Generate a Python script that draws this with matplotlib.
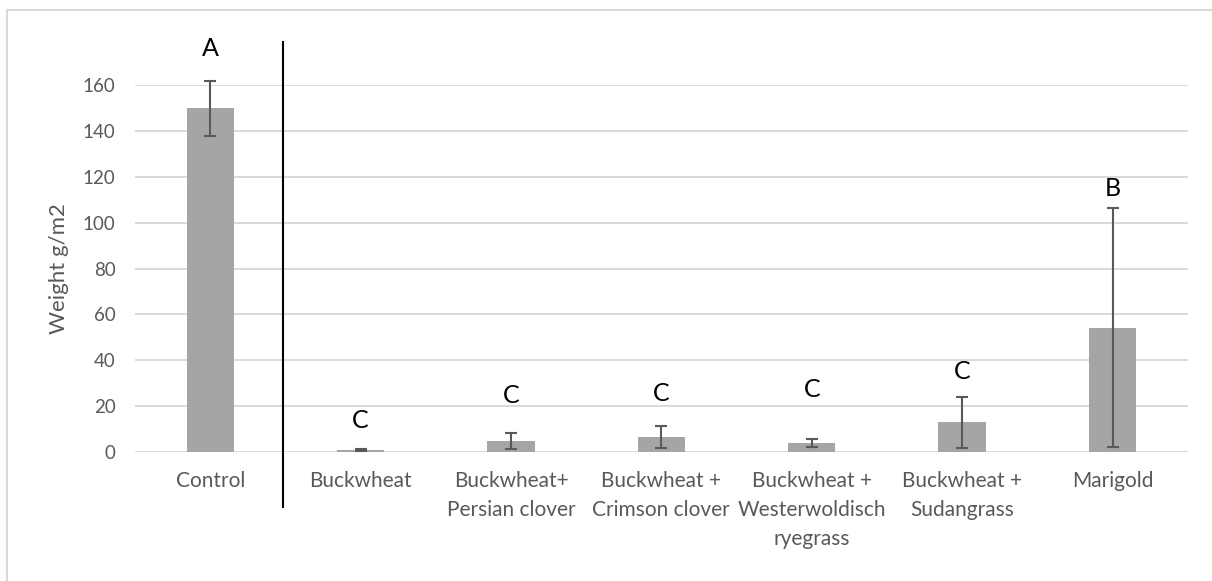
import matplotlib
matplotlib.use("Agg")
import matplotlib.pyplot as plt
from matplotlib.lines import Line2D
import matplotlib.transforms as mtransforms

plt.rcParams['font.family'] = ['Lato', 'DejaVu Sans']

categories = ["Control", "Buckwheat", "Buckwheat+\nPersian clover",
              "Buckwheat +\nCrimson clover", "Buckwheat +\nWesterwoldisch\nryegrass",
              "Buckwheat +\nSudangrass", "Marigold"]
weights = [150.0, 0.8, 4.7, 6.5, 3.7, 12.9, 54.2]
errors = [12.0, 0.4, 3.5, 4.8, 1.7, 11.2, 52.2]
groups = ["A", "C", "C", "C", "C", "C", "B"]
group_y = [176, 13.8, 24.5, 25.5, 27.2, 35, 115]
yticks = [0, 20, 40, 60, 80, 100, 120, 140, 160]

W, H = 1212, 581
fig = plt.figure(figsize=(W / 100, H / 100), dpi=100)
ax = fig.add_axes([135 / W, 1 - 451.7 / H, (1187.7 - 135) / W, (451.7 - 85.3) / H])

grey_text = "#595959"
x = list(range(len(categories)))

ax.set_axisbelow(True)
ax.yaxis.grid(True, color="#D9D9D9", linewidth=1.4)
ax.bar(x, weights, width=0.315, color="#A5A5A5", zorder=2)
eb = ax.errorbar(x, weights, yerr=errors, fmt="none", ecolor=grey_text,
                 elinewidth=1.5, capsize=4.5, capthick=1.5, zorder=3)
for part in eb.lines:
    for artist in (part if isinstance(part, tuple) else [part]):
        if artist is not None:
            artist.set_clip_on(False)

for xi, g, gy in zip(x, groups, group_y):
    ax.text(xi, gy, g, ha="center", va="center", fontsize=18, color="black",
            clip_on=False)

ax.set_xlim(-0.5, len(categories) - 0.5)
ax.set_ylim(0, 160)
ax.set_yticks(yticks)
ax.set_xticks(x)
ax.set_xticklabels(categories, fontsize=15, color=grey_text, linespacing=1.56,
                   va="top")
ax.tick_params(axis="y", length=0, pad=14, labelsize=13.5, labelcolor=grey_text)
ax.tick_params(axis="x", length=0, pad=14)
for side in ["top", "right", "left", "bottom"]:
    ax.spines[side].set_visible(False)

ax.set_ylabel("Weight g/m2", fontsize=16, color=grey_text, labelpad=10)

# separator between the control and the cover-crop treatments
trans = mtransforms.blended_transform_factory(ax.transData, ax.transData)
ax.add_line(Line2D([0.482, 0.482], [-24, 179], color="black", linewidth=1.5,
                   transform=trans, clip_on=False))

# chart frame
frame_c = "#D9D9D9"
fig.add_artist(Line2D([7 / W, 1], [1 - 10 / H, 1 - 10 / H], color=frame_c,
                      linewidth=1.5, transform=fig.transFigure))
fig.add_artist(Line2D([7 / W, 7 / W], [0, 1 - 10 / H], color=frame_c,
                      linewidth=1.5, transform=fig.transFigure))

fig.savefig("out.png", dpi=100, facecolor="white")
